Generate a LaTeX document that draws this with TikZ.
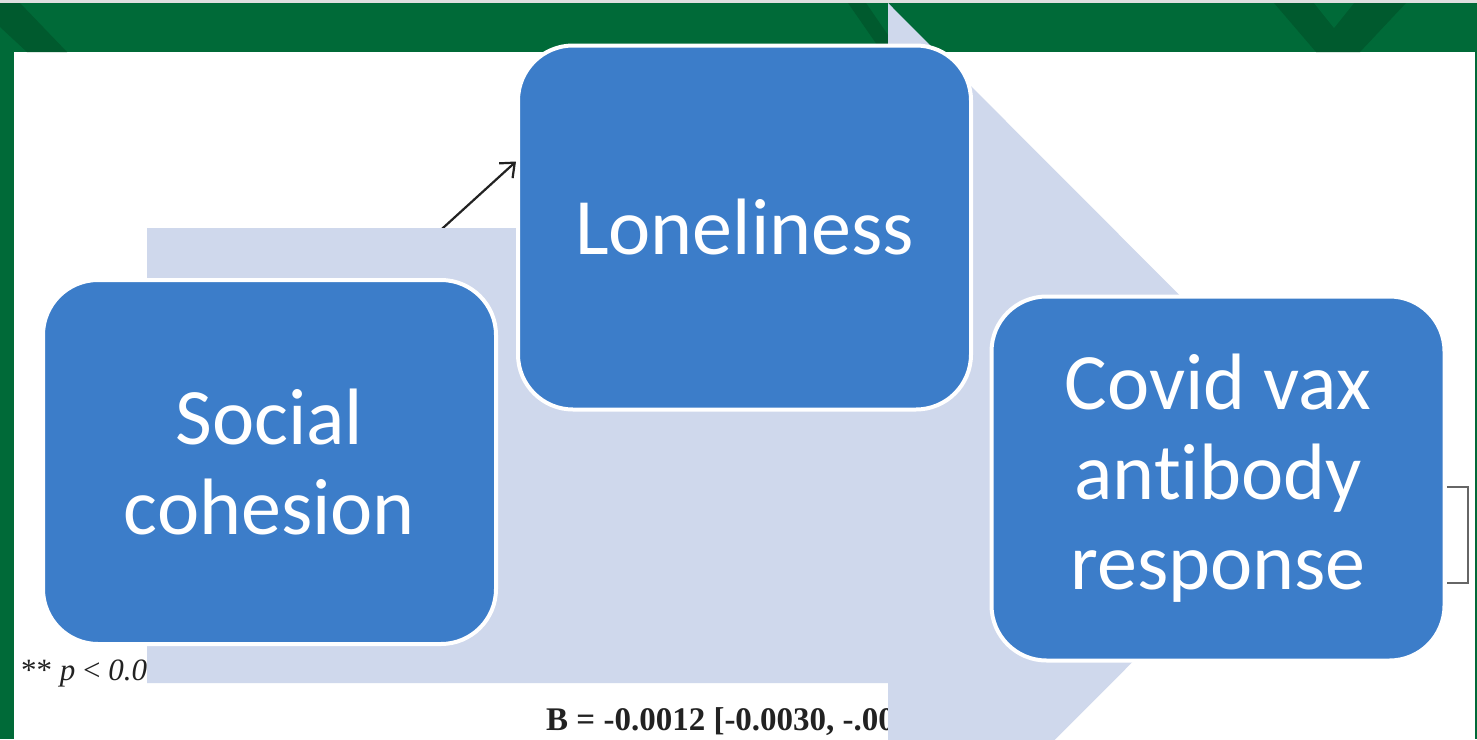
\documentclass[tikz,border=0pt]{standalone}
\usepackage{fontspec}
\setmainfont{Liberation Serif}
\newfontfamily\carlito[Ligatures=NoCommon]{Carlito}
\usetikzlibrary{arrows.meta}
\definecolor{grn}{HTML}{006A38}
\definecolor{dgrn}{HTML}{005A2E}
\definecolor{boxblue}{HTML}{3C7DC9}
\definecolor{lav}{HTML}{CFD8EC}
\definecolor{inkgray}{HTML}{222222}
\pgfdeclarelayer{back}
\pgfdeclarelayer{mid}
\pgfsetlayers{back,mid,main}
\begin{document}
\begin{tikzpicture}[x=1pt,y=-1pt,
  box/.style={draw=white, line width=4pt, fill=boxblue, rounded corners=55pt,
    minimum width=453pt, minimum height=364pt, text=white, align=center,
    font=\carlito\fontsize{80}{90}\selectfont, inner sep=0pt},
  note/.style={text=inkgray, inner sep=0pt, anchor=base west},
  link/.style={line width=2.2pt, inkgray, -{Straight Barb[length=12pt,width=20pt]}},
  bracket/.style={line width=2pt, black!60}]
\useasboundingbox (0,0) rectangle (1477,739);
\clip (0,0) rectangle (1477,739);

% boxes (main layer)
\node[box] (soc) at (269.5,462) {Social\\cohesion};
\node[box] (lon) at (744.5,227.5) {Loneliness};
\node[box] (cov) at (1218,478.5) {Covid vax\\antibody\\response};

\begin{pgfonlayer}{back}
  \fill[white] (0,0) rectangle (1477,739);
  \fill[gray!25] (0,0) rectangle (1477,3);
  \fill[grn] (0,3) rectangle (1477,52);
  \fill[grn] (0,52) rectangle (14,739);
  \fill[grn] (1474.5,52) rectangle (1477,739);
  \fill[dgrn] (0,3) -- (20,3) -- (67,52) -- (27,52) -- (0,27) -- cycle;
  \fill[dgrn] (1274,3) -- (1406,3) -- (1360,52) -- (1316,52) -- cycle;
  \fill[grn] (1314,3) -- (1354,3) -- (1334,28) -- cycle;
  \fill[dgrn] (848,3) -- (866,3) -- (888,35) -- (888,52) -- (882,52) -- cycle;
  \node[note, font=\fontsize{31}{36}\selectfont] (pval) at (21,680) {** \textit{p} < \textit{0.0}};
  \node[note, font=\bfseries\fontsize{33}{40}\selectfont] (bval) at (546,730) {B = -0.0012 [-0.0030, -.00};
  \draw[link] ([xshift=118.5pt]soc.north) -- ([yshift=66pt]lon.west);
  \draw[bracket] ([yshift=-8pt]cov.east) -- ++(21,0) -- ++(0,96) -- ++(-21,0);
\end{pgfonlayer}

\begin{pgfonlayer}{mid}
  \fill[lav] (147,228) -- (888,228) -- (888,3) -- (1339,455) -- (888,907)
    -- (888,683) -- (147,683) -- cycle;
\end{pgfonlayer}
\end{tikzpicture}
\end{document}
